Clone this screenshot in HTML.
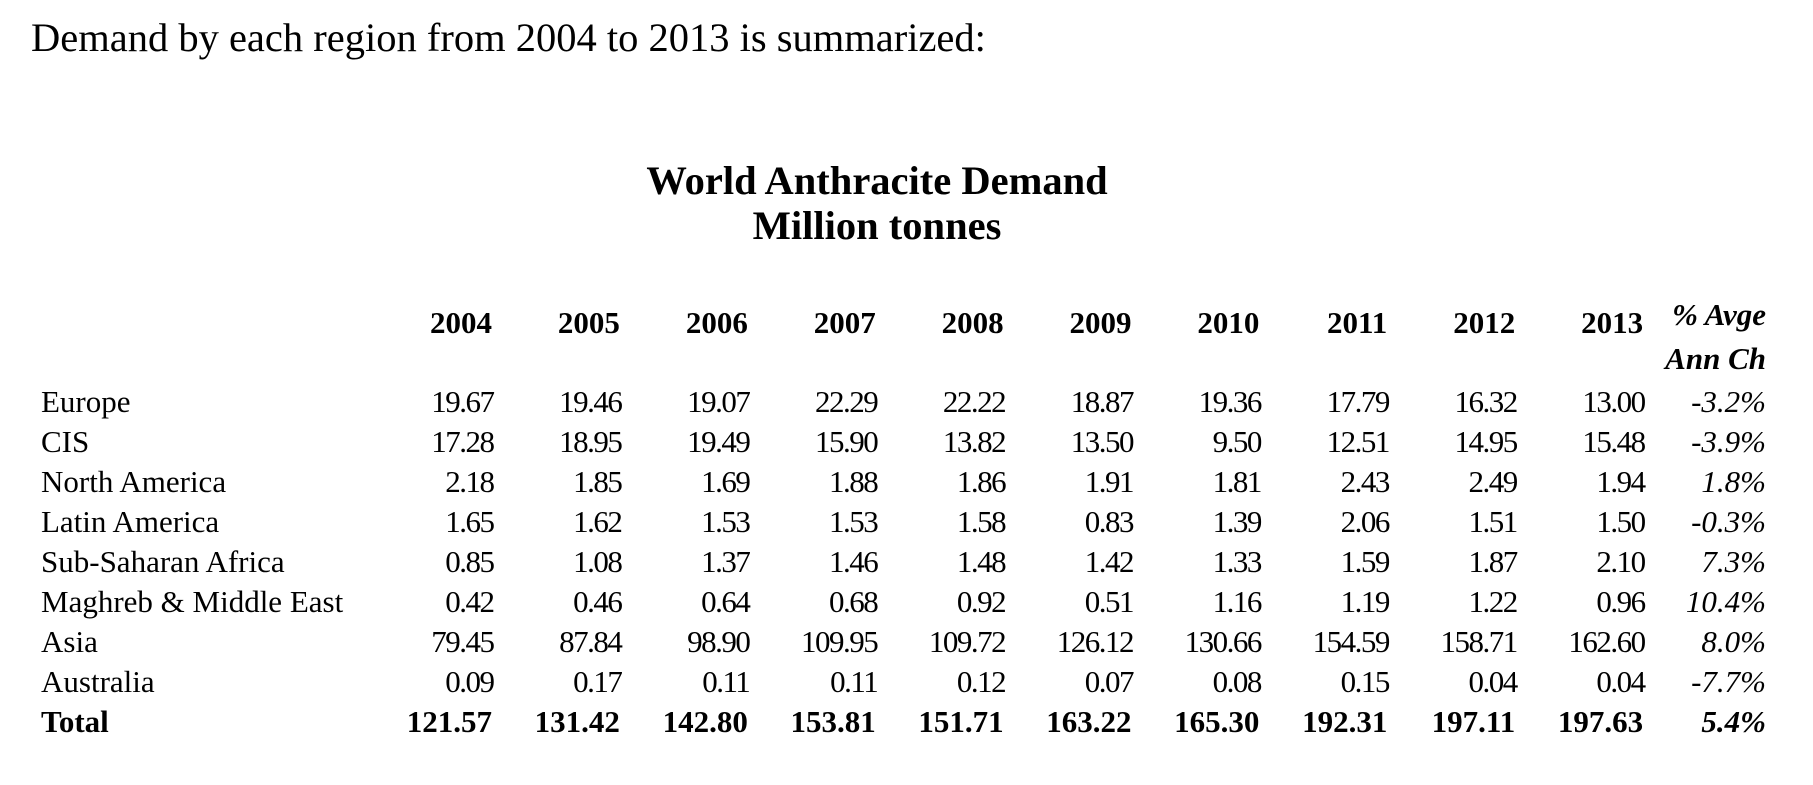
<!DOCTYPE html>
<html>
<head>
<meta charset="utf-8">
<style>
  html, body { margin:0; padding:0; background:#fff; }
  body { width:1813px; height:785px; position:relative; overflow:hidden;
         font-family:"Liberation Serif", "Times New Roman", serif; color:#000; }
  .a { position:absolute; white-space:nowrap; line-height:1; }
  .h { font-size:40.5px; }
  .t { font-size:40.5px; font-weight:bold; text-align:center; width:700px; left:527px; }
  .c { font-size:31px; }
  .r { text-align:right; }
  .n { letter-spacing:-1.5px; }
  .b { font-weight:bold; }
  .i { font-style:italic; }
</style>
</head>
<body>
<div class="a h" style="left:31px;top:18px;">Demand by each region from 2004 to 2013 is summarized:</div>
<div class="a t" style="top:161px;">World Anthracite Demand</div>
<div class="a t" style="top:206px;">Million tonnes</div>

<div id="tbl"></div>
<script>
(function(){
  var years=["2004","2005","2006","2007","2008","2009","2010","2011","2012","2013"];
  var rows=[
    ["Europe",["19.67","19.46","19.07","22.29","22.22","18.87","19.36","17.79","16.32","13.00"],"-3.2%"],
    ["CIS",["17.28","18.95","19.49","15.90","13.82","13.50","9.50","12.51","14.95","15.48"],"-3.9%"],
    ["North America",["2.18","1.85","1.69","1.88","1.86","1.91","1.81","2.43","2.49","1.94"],"1.8%"],
    ["Latin America",["1.65","1.62","1.53","1.53","1.58","0.83","1.39","2.06","1.51","1.50"],"-0.3%"],
    ["Sub-Saharan Africa",["0.85","1.08","1.37","1.46","1.48","1.42","1.33","1.59","1.87","2.10"],"7.3%"],
    ["Maghreb &amp; Middle East",["0.42","0.46","0.64","0.68","0.92","0.51","1.16","1.19","1.22","0.96"],"10.4%"],
    ["Asia",["79.45","87.84","98.90","109.95","109.72","126.12","130.66","154.59","158.71","162.60"],"8.0%"],
    ["Australia",["0.09","0.17","0.11","0.11","0.12","0.07","0.08","0.15","0.04","0.04"],"-7.7%"],
    ["Total",["121.57","131.42","142.80","153.81","151.71","163.22","165.30","192.31","197.11","197.63"],"5.4%"]
  ];
  var W=1813, html="";
  function colR(k){ return 492 + k*127.9; }
  var pctR=1766;
  for(var k=0;k<10;k++){
    html+='<div class="a c b r" style="right:'+(W-colR(k))+'px;top:307px;">'+years[k]+'</div>';
  }
  html+='<div class="a c b i r" style="right:'+(W-pctR)+'px;top:299px;">% Avge</div>';
  html+='<div class="a c b i r" style="right:'+(W-pctR)+'px;top:343px;">Ann Ch</div>';
  for(var r=0;r<rows.length;r++){
    var top=386+r*40, isT=(r===rows.length-1);
    html+='<div class="a c'+(isT?' b':'')+'" style="left:41px;top:'+top+'px;">'+rows[r][0]+'</div>';
    for(var k=0;k<10;k++){
      if(isT){
        html+='<div class="a c b r" style="right:'+(W-colR(k))+'px;top:'+top+'px;">'+rows[r][1][k]+'</div>';
      } else {
        html+='<div class="a c r n" style="right:'+(W-colR(k)-1.5)+'px;top:'+top+'px;">'+rows[r][1][k]+'</div>';
      }
    }
    html+='<div class="a c i r'+(isT?' b':'')+'" style="right:'+(W-pctR)+'px;top:'+top+'px;">'+rows[r][2]+'</div>';
  }
  document.getElementById("tbl").innerHTML=html;
})();
</script>
</body>
</html>
